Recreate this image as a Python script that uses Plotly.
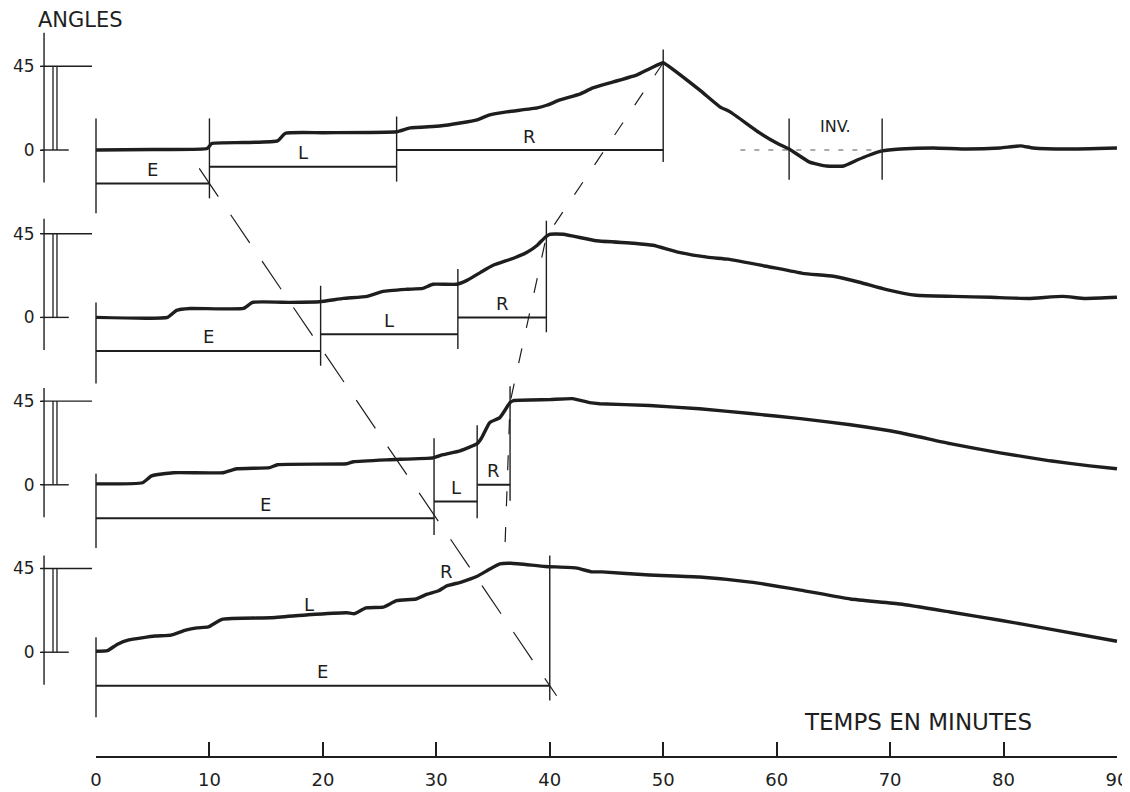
import numpy as np
import plotly.graph_objects as go

# ---------------- data (minutes, angle in degrees) ----------------
MINUTE_TICKS = [0, 10, 20, 30, 40, 50, 60, 70, 80, 90]

T1 = [0, 5, 9.8, 10.2, 13, 16, 16.7, 20, 26.5, 27.7, 30.3, 32.1, 33.6, 34.7, 36.2, 38.9, 39.8,
      40.9, 42.7, 43.8, 45.6, 47.7, 48.6, 49.7, 50.0, 53.2, 55.0, 55.9, 58.5, 60.0, 61.1, 62.9,
      64.4, 65.9, 67.1, 68.2, 69.3, 70.9, 73.8, 76.8, 79.7, 81.5, 82.6, 85.6, 90]
A1 = [0, 0.3, 0.8, 3.5, 4.0, 4.9, 9.0, 9.3, 9.8, 11.9, 12.9, 14.5, 16.2, 18.9, 20.5, 22.6, 24.2,
      26.9, 30.2, 33.4, 36.6, 40.4, 43.1, 46.3, 46.9, 32.3, 23.2, 20.5, 9.2, 3.8, 0.5, -6.5,
      -8.6, -8.6, -5.4, -2.7, -0.5, 0.5, 1.1, 0.5, 1.1, 2.2, 1.1, 0.5, 1.1]

T2 = [0, 6.3, 7.1, 8.3, 13.0, 13.8, 17.1, 19.7, 21.8, 23.9, 25.3, 27.4, 28.8, 29.7, 31.8, 32.7,
      33.9, 35.0, 36.8, 38.0, 38.9, 39.6, 40.0, 41.2, 44.1, 47.4, 49.1, 51.4, 54.0, 55.7, 59.1,
      62.3, 65.0, 67.3, 69.6, 72.3, 75.6, 78.9, 82.2, 85.2, 87.2, 90]
A2 = [0, 0, 3.8, 4.8, 4.8, 8.1, 8.1, 8.4, 10.2, 11.3, 14.0, 15.1, 15.6, 17.8, 17.8, 19.9,
      24.2, 28.0, 31.8, 35.0, 38.8, 43.1, 44.7, 44.7, 41.2, 39.9, 38.8, 35.0, 32.3, 31.3, 27.5,
      23.7, 22.1, 18.9, 15.1, 11.9, 11.3, 10.8, 10.2, 11.3, 10.2, 10.8]

T3 = [0, 4.1, 4.9, 6.8, 11.2, 12.4, 15.3, 16.0, 22.1, 22.7, 25.9, 29.7, 30.6, 32.1, 33.6, 34.0,
      34.7, 35.6, 36.5, 36.8, 40.0, 42.0, 43.5, 44.4, 48.8, 53.2, 57.7, 62.1, 66.5, 70.9, 75.3,
      79.7, 84.1, 87.6, 90]
A3 = [0.5, 1.1, 4.8, 6.5, 6.5, 8.6, 9.2, 10.8, 11.3, 12.4, 13.5, 14.5, 16.2, 18.3, 22.1, 25.3,
      33.4, 36.1, 44.2, 45.3, 45.8, 46.3, 44.2, 43.6, 42.6, 40.9, 38.3, 35.6, 32.3, 28.0, 22.1,
      17.2, 12.9, 10.2, 8.6]

T4 = [0, 1.0, 1.9, 2.9, 5.2, 6.6, 7.9, 8.9, 9.9, 11.1, 15.4, 18.7, 22.1, 22.8, 23.8, 25.3, 26.5,
      28.2, 29.2, 30.2, 30.9, 32.2, 33.6, 34.6, 35.6, 36.6, 39.6, 42.3, 43.7, 44.6, 48.8, 53.2,
      57.7, 62.1, 66.5, 70.9, 75.3, 79.7, 84.1, 90]
A4 = [0.5, 0.8, 4.3, 6.6, 8.7, 9.2, 11.9, 13.1, 13.6, 17.7, 18.5, 20.1, 21.2, 20.7, 23.8, 24.2,
      27.7, 28.6, 31.2, 33.0, 35.6, 37.7, 40.8, 44.3, 47.5, 47.8, 46.1, 45.3, 43.2, 43.2, 41.5,
      40.4, 37.7, 33.4, 28.6, 25.9, 21.6, 17.2, 12.4, 5.9]

CURVES_T = [T1, T2, T3, T4]
CURVES_A = [A1, A2, A3, A4]

# phase boundaries (minutes) for each record
EVENTS = [[0, 10, 26.5, 50], [0, 19.8, 31.9, 39.7], [0, 29.8, 33.6, 36.5], [0, 40]]
PHASES = [["E", "L", "R"], ["E", "L", "R"], ["E", "L", "R"], ["E"]]
INV_TIMES = [61.1, 69.3]
PEAK_TIME_4 = 36.0

# free labels on the 4th record
FREE_LABELS = [("L", 18.8, 25.8), ("R", 30.9, 43.5)]

# ---------------- layout constants ----------------
PAGE_MARGIN = 8                     # default body margin of the page
W, H = 1130 - PAGE_MARGIN, 792 - PAGE_MARGIN
X0_PX, PX_PER_MIN = 96 - PAGE_MARGIN, 11.344
ZERO1_PX, PX_PER_DEG = 150 - PAGE_MARGIN, 1.86
TIME_AXIS_PX = 757 - PAGE_MARGIN
PANEL_OFFSET = [0, -90, -180, -270]
XMIN, XMAX = -X0_PX / PX_PER_MIN, (W - X0_PX) / PX_PER_MIN
YMAX, YMIN = ZERO1_PX / PX_PER_DEG, -(H - ZERO1_PX) / PX_PER_DEG

PHASE_LEVEL = {"E": -18, "L": -9, "R": 0}
EVENT_TOP = [[17, 17, 18, 54], [8, 17, 26, 52], [6, 25, 32, 53], [8, 52]]
EVENT_BOTTOM = [[-34, -26, -17, -6.5], [-35.5, -26, -17, -8], [-34, -27, -18, -8.6], [-35, -26]]
AXIS_TOP = [63, 53, 52, 52]
AXIS_BOTTOM = -17.5
AXIS_X = -4.58
INK = "#1e1e1e"
FONT = "'DejaVu Sans', Lato, sans-serif"

fig = go.Figure()


def line(xs, ys, width=1.4, dash=None, color=INK):
    fig.add_trace(go.Scatter(x=xs, y=ys, mode="lines", hoverinfo="skip", showlegend=False,
                             line=dict(color=color, width=width, dash=dash)))


annotations = []


def label(text, x, y, size=18, xanchor="center"):
    annotations.append(dict(x=x, y=y, xref="x", yref="y", text=text, showarrow=False,
                            xanchor=xanchor, yanchor="middle",
                            font=dict(family=FONT, size=size, color=INK)))


for k in range(4):
    off = PANEL_OFFSET[k]
    # left angle scale
    line([AXIS_X, AXIS_X], [off + AXIS_TOP[k], off + AXIS_BOTTOM], 1.4)
    line([-4.9, -0.35], [off + 45, off + 45], 1.4)
    line([-4.9, -2.4], [off, off], 1.4)
    for bx in (-3.79, -3.44):
        line([bx, bx], [off, off + 45], 1.3)
    # phase boundaries
    ev = EVENTS[k]
    for i, t in enumerate(ev):
        line([t, t], [off + EVENT_TOP[k][i], off + EVENT_BOTTOM[k][i]], 1.4)
    for i, ph in enumerate(PHASES[k]):
        lv = PHASE_LEVEL[ph]
        line([ev[i], ev[i + 1]], [off + lv, off + lv], 2.0)
        label(ph, (ev[i] + ev[i + 1]) / 2, off + lv + 7.5)
    # recorded curve
    fig.add_trace(go.Scatter(x=CURVES_T[k], y=[a + off for a in CURVES_A[k]], mode="lines",
                             hoverinfo="skip", showlegend=False,
                             line=dict(color=INK, width=3.4, shape="spline", smoothing=0.4)))

# inversion on first record
for t in INV_TIMES:
    line([t, t], [17, -16], 1.4)
line([56.8, INV_TIMES[1]], [0, 0], 1.0, dash="5px,9px", color="#555")
label("INV.", (INV_TIMES[0] + INV_TIMES[1]) / 2, 12.4, size=16)

for txt, t, a in FREE_LABELS:
    label(txt, t, a + PANEL_OFFSET[3], size=18)

# dashed guide joining the ends of phase E
e_start = np.array([EVENTS[0][1], PANEL_OFFSET[0] + PHASE_LEVEL["E"]])
e_end = np.array([EVENTS[3][1], PANEL_OFFSET[3] + PHASE_LEVEL["E"]])
d = e_end - e_start
p0, p1 = e_start - 0.03 * d, e_end + 0.02 * d
line([p0[0], p1[0]], [p0[1], p1[1]], 1.2, dash="34px,22px")

# dashed guide joining the peaks (ends of phase R)
peak_t = [EVENTS[0][3], EVENTS[1][3], EVENTS[2][3], PEAK_TIME_4]
peak_y = [float(np.interp(peak_t[k], CURVES_T[k], CURVES_A[k])) + PANEL_OFFSET[k] for k in range(4)]
line(peak_t, peak_y, 1.2, dash="15px,21px")

# titles
label("ANGLES", -5.3, 70, size=21, xanchor="left")
label("TEMPS EN MINUTES", 72.46, -307.5, size=23)

# invisible trace that binds the time axis
fig.add_trace(go.Scatter(x=MINUTE_TICKS, y=[None] * len(MINUTE_TICKS), xaxis="x2", yaxis="y",
                         mode="lines", hoverinfo="skip", showlegend=False))

tickvals, ticktext = [], []
for off in PANEL_OFFSET:
    tickvals += [off, off + 45]
    ticktext += ["0", "45"]


def xpaper(t):
    return (t - XMIN) / (XMAX - XMIN)


fig.update_layout(
    template="none",
    width=W, height=H, margin=dict(l=0, r=0, t=0, b=0, pad=0),
    paper_bgcolor="white", plot_bgcolor="rgba(0,0,0,0)",
    showlegend=False, annotations=annotations,
    xaxis=dict(range=[XMIN, XMAX], domain=[0, 1], visible=False, fixedrange=True,
               automargin=False),
    xaxis2=dict(range=[0, 90], domain=[xpaper(0), xpaper(90)], anchor="free",
                position=(H - TIME_AXIS_PX) / H, showline=True, linecolor=INK, linewidth=1.8,
                ticks="inside", ticklen=14, tickwidth=1.5, tickcolor=INK,
                tickvals=MINUTE_TICKS, ticktext=[str(v) for v in MINUTE_TICKS],
                tickfont=dict(family=FONT, size=18, color=INK), ticklabelstandoff=6,
                showgrid=False, zeroline=False, automargin=False),
    yaxis=dict(range=[YMIN, YMAX], domain=[0, 1], anchor="free", position=xpaper(AXIS_X),
               showline=False, showgrid=False, zeroline=False, automargin=False,
               tickvals=tickvals, ticktext=ticktext, ticks="outside", ticklen=4,
               tickwidth=1.4, tickcolor=INK, ticklabelstandoff=2,
               tickfont=dict(family=FONT, size=17, color=INK)),
)

fig.write_html("out.html")
